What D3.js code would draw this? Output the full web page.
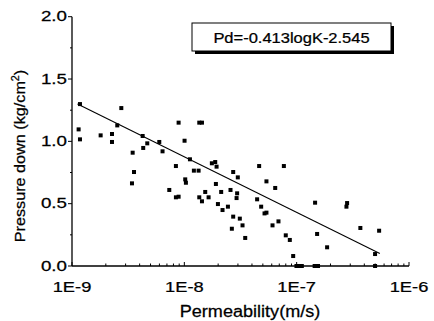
<!DOCTYPE html>
<html><head><meta charset="utf-8">
<script src="https://cdn.jsdelivr.net/npm/d3@7"></script>
<style>
html,body{margin:0;padding:0;background:#fff;}
svg{display:block;font-family:"Liberation Sans",Arial,sans-serif;}
text{fill:#000;stroke:#000;stroke-width:0.25;}
</style></head>
<body>
<svg id="c" width="434" height="321"></svg>
<script>
// log10 of permeability (m/s)
const logK = [-8.929,-8.941,-8.929,-8.745,-8.644,-8.644,-8.597,-8.561,-8.460,-8.448,-8.466,-8.371,-8.366,-8.330,
 -8.223,-8.194,-8.075,-8.134,-8.075,-8.051,-8.051,-7.998,-7.992,-7.986,-7.950,-7.915,-7.873,-7.867,-7.843,
 -7.867,-7.843,-7.814,-7.784,-7.755,-7.725,-7.713,-7.719,-7.701,-7.672,-7.660,-7.612,-7.589,-7.565,-7.524,
 -7.530,-7.535,-7.577,-7.565,-7.506,-7.482,-7.458,-7.334,-7.352,-7.316,-7.286,-7.269,-7.269,-7.215,-7.191,
 -7.162,-7.114,-7.097,-7.061,-7.031,-7.002,-6.975,-6.954,-6.836,-6.818,-6.840,-6.810,-6.729,-6.557,-6.551,
 -6.433,-6.302,-6.302,-6.266];
const pressure = [1.299,1.096,1.016,1.048,1.059,0.995,1.128,1.267,0.909,0.754,0.663,1.043,0.947,0.984,
 0.995,0.920,0.802,0.610,0.551,0.556,1.150,1.005,0.695,0.668,0.856,0.765,0.765,1.150,1.150,
 0.551,0.519,0.594,0.551,0.824,0.834,0.797,0.658,0.497,0.594,0.449,0.476,0.610,0.754,0.711,
 0.583,0.545,0.299,0.396,0.380,0.326,0.225,0.802,0.535,0.476,0.422,0.428,0.679,0.326,0.626,
 0.358,0.802,0.246,0.209,0.080,0.0,0.0,0.0,0.508,0.257,0.0,0.0,0.150,0.476,0.505,
 0.305,0.096,0.0,0.283];
// fitted line end points
const fitK = [1.12e-9, 5.5e-7];
const fitPd = [1.30, 0.10];
const xTicks = [1e-9, 1e-8, 1e-7, 1e-6];
const xTickLabels = ["1E-9","1E-8","1E-7","1E-6"];
const yTicks = [0, 0.5, 1.0, 1.5, 2.0];
const legendText = "Pd=-0.413logK-2.545";
const xTitle = "Permeability(m/s)";

const svg = d3.select("#c");
const L = 72, R = 409, T = 16.7, B = 266;
const x = d3.scaleLog().domain([1e-9, 1e-6]).range([L, R]);
const y = d3.scaleLinear().domain([0, 2]).range([B, T]);

function stext(g, tx, ty, sx, fs, anchor, str) {
  return g.append("text")
    .attr("transform", `translate(${tx},${ty}) scale(${sx},1)`)
    .attr("text-anchor", anchor).attr("font-size", fs).text(str);
}

// minor ticks
const minorX = [];
for (let e = -9; e < -6; e++) for (let m = 2; m <= 9; m++) minorX.push(m * Math.pow(10, e));
const gx = svg.append("g").attr("transform", `translate(0,${B})`);
gx.selectAll("line.mn").data(minorX).join("line")
  .attr("x1", d => x(d)).attr("x2", d => x(d)).attr("y1", 0).attr("y2", -2.5)
  .attr("stroke", "#000").attr("stroke-width", 1);
gx.selectAll("line.mj").data(xTicks).join("line")
  .attr("x1", d => x(d)).attr("x2", d => x(d)).attr("y1", 0).attr("y2", -4)
  .attr("stroke", "#000").attr("stroke-width", 1);
gx.append("line").attr("x1", L).attr("x2", R).attr("y1", 0).attr("y2", 0)
  .attr("stroke", "#000").attr("stroke-width", 1.3);
xTicks.forEach((d, i) => stext(gx, x(d), 26, 1.22, 15, "middle", xTickLabels[i]));

const gy = svg.append("g").attr("transform", `translate(${L},0)`);
gy.selectAll("line.mn").data([0.25, 0.75, 1.25, 1.75]).join("line")
  .attr("x1", 0).attr("x2", -2).attr("y1", d => y(d)).attr("y2", d => y(d))
  .attr("stroke", "#000");
gy.selectAll("line.mj").data(yTicks).join("line")
  .attr("x1", 0).attr("x2", -4).attr("y1", d => y(d)).attr("y2", d => y(d))
  .attr("stroke", "#000");
gy.append("line").attr("x1", 0).attr("x2", 0).attr("y1", T).attr("y2", B)
  .attr("stroke", "#000").attr("stroke-width", 1.3);
yTicks.forEach(d => stext(gy, -5, y(d) + 4.5, 1.25, 15, "end", d3.format(".1f")(d)));

// fitted line
svg.append("line")
  .attr("x1", x(fitK[0])).attr("y1", y(fitPd[0]))
  .attr("x2", x(fitK[1])).attr("y2", y(fitPd[1]))
  .attr("stroke", "#000").attr("stroke-width", 1.1);

// points
svg.append("g").selectAll("rect").data(logK).join("rect")
  .attr("x", (d, i) => x(Math.pow(10, d)) - 2)
  .attr("y", (d, i) => y(pressure[i]) - 2)
  .attr("width", 4).attr("height", 4).attr("fill", "#000");

// legend box with shadow
svg.append("rect").attr("x", 195).attr("y", 26).attr("width", 199).attr("height", 28).attr("fill", "#000");
svg.append("rect").attr("x", 192).attr("y", 23).attr("width", 199).attr("height", 28)
  .attr("fill", "#fff").attr("stroke", "#000").attr("stroke-width", 1);
stext(svg, 291.5, 42.5, 1.1, 15, "middle", legendText);

// axis titles
stext(svg, 250, 317, 1.13, 16, "middle", xTitle);
const yt = svg.append("text").attr("transform", "translate(25,156) rotate(-90) scale(1.08,1)")
  .attr("text-anchor", "middle").attr("font-size", 15);
yt.append("tspan").text("Pressure down (kg/cm");
yt.append("tspan").attr("dy", -6).attr("font-size", 10).text("2");
yt.append("tspan").attr("dy", 6).text(")");
</script>
</body></html>
